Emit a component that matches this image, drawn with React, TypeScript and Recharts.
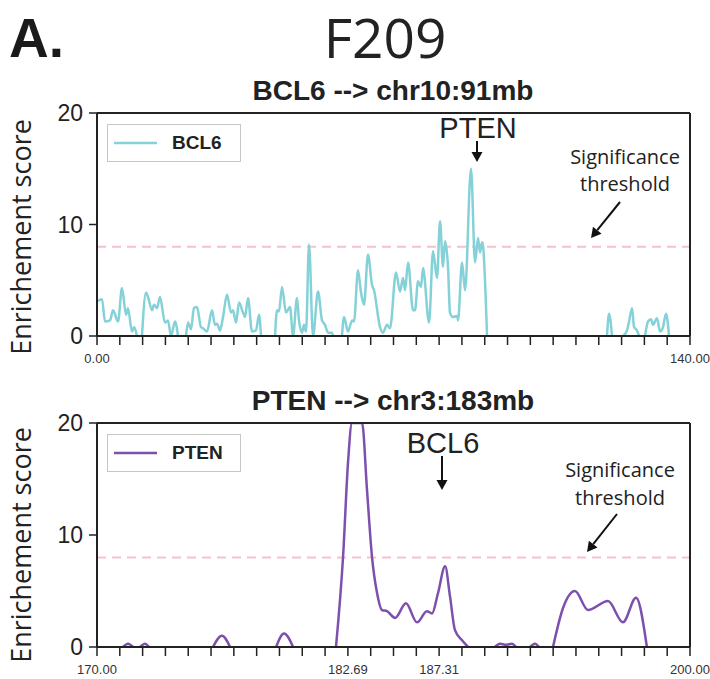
import { LineChart, Line, XAxis, YAxis, ReferenceLine, Legend } from "recharts";

// BCL6 --> chr10 (Mb), null = gap where the curve sits under the axis
const BCL6_POS = [
  0.0, 1.18, 1.89, 3.07, 3.78, 4.96, 5.9, 6.85, 7.32, 8.26, 8.74, 9.44, 10.0, 10.62, 11.57, 12.04, 12.99,
  13.46, 14.17, 14.87, 16.05, 16.76, 17.47, 18.42, 19.12, 20.0, 21.01, 21.49, 22.19, 22.9, 23.61, 24.55,
  25.03, 25.97, 27.15, 27.86, 28.33, 29.04, 29.75, 30.69, 31.64, 32.11, 32.82, 33.53, 34.47, 34.94, 35.65,
  36.6, 37.54, 38.25, 38.72, 40.0, 42.03, 42.5, 42.97, 43.68, 44.62, 45.57, 46.28, 47.22, 47.69, 48.4,
  48.87, 49.35, 50.05, 51.0, 52.18, 53.12, 53.83, 54.54, 55.48, 55.72, 56.5, 57.84, 58.32, 59.26, 60.21,
  60.68, 61.62, 62.33, 63.04, 63.98, 64.93, 65.4, 66.82, 67.52, 68.47, 69.18, 70.59, 71.54, 72.25, 72.72,
  73.43, 74.61, 75.08, 75.79, 76.5, 76.97, 78.39, 79.33, 80.27, 80.98, 81.69, 82.16, 82.87, 83.34, 84.05,
  85.0, 85.23, 86.18, 86.89, 88.3, 89.25, 89.95, 90.43, 90.9, 91.13, 92.08, 100.0, 120.41, 120.88, 121.59,
  123.0, 124.19, 125.13, 125.61, 126.32, 126.79, 127.49, 127.97, 128.7, 129.38, 130.09, 130.8, 131.27,
  132.22, 132.92, 133.63, 134.34, 135.05,
];
const BCL6_SCORE = [
  3.1, 3.3, 1.3, 1.4, 2.3, 1.3, 4.3, 1.9, 2.5, 0.4, 0.8, 0, null, 0, 3.9, 3.5, 2.3,
  2.8, 2.5, 3.5, 1.2, 1.4, 0, 1.3, 0, null, 0, 1.2, 0.6, 2.5, 2.6, 0.8,
  0.7, 0.4, 2.3, 1.0, 1.1, 0.5, 1.7, 3.7, 2.1, 2.3, 1.2, 3.0, 2.1, 1.7, 3.4,
  0.4, 0.5, 1.9, 0, null, 0, 2.3, 2.2, 4.4, 2.1, 2.6, 0, 3.4, 1.4, 0.3,
  1.0, 0.4, 8.2, 0, 4.0, 1.4, 1.0, 0.3, 0.3, 0, null, 0, 1.7, 0.4, 1.4,
  1.3, 5.9, 3.9, 2.8, 7.3, 4.6, 4.1, 0.8, 0.3, 1.0, 0.7, 5.7, 4.0, 5.2, 4.1,
  6.6, 2.3, 2.3, 4.9, 4.4, 6.1, 1.2, 7.6, 5.2, 10.3, 6.2, 8.5, 6.2, 2.1, 1.7,
  1.8, 1.4, 6.6, 4.1, 15.0, 6.6, 8.8, 7.5, 8.4, 8.1, 0, null, 0, 2.0, 0,
  null, 0, 0.5, 1.3, 2.5, 0.8, 0.5, 0, null, 0, 1.3, 1.5, 1.0,
  1.6, 0.4, 0.8, 2.0, 0,
];

// PTEN --> chr3 (Mb); the big peak runs along the top of the plot
const PTEN_POS = [
  171.32, 171.57, 171.82, 172.0, 172.18, 172.43, 172.63, 174.0, 175.87, 176.32, 176.73, 178.0, 179.06,
  179.46, 179.92, 181.0, 182.09, 182.45, 182.7, 182.9, 183.15, 183.41, 183.66, 183.91, 184.17, 184.42,
  184.67, 185.08, 185.63, 186.19, 186.69, 186.95, 187.25, 187.61, 187.86, 188.11, 188.47, 188.77, 189.5,
  190.13, 190.39, 190.69, 190.99, 191.2, 191.5, 191.91, 192.16, 192.36, 192.7, 193.07, 193.58, 194.18,
  194.84, 195.85, 196.61, 197.27, 197.82,
];
const PTEN_SCORE = [
  0, 0.3, 0, null, 0, 0.3, 0, null, 0, 1.0, 0, null, 0,
  1.2, 0, null, 0, 8.1, 16.5, 20, 20, 20, 14, 8.1, 4.8, 3.3,
  3.2, 2.6, 3.9, 2.2, 3.2, 3.0, 4.8, 7.2, 4.5, 1.5, 0.6, 0, null,
  0, 0.3, 0.2, 0.3, 0, null, 0, 0.3, 0, null, 0, 3.5, 5.0,
  3.3, 4.1, 2.2, 4.4, 0,
];

const THRESHOLD = 8;
const Y_TICKS = [0, 10, 20];
const BCL6_X_LABELS = [0, 140];
const PTEN_X_LABELS = [170, 182.69, 187.31, 200];
const TICK_STEPS = 26;

const SANS = "'Liberation Sans', Arial, sans-serif";
const HUMAN = "'Open Sans', 'Noto Sans', sans-serif";
const INK = "#222";

type PanelProps = {
  pos: number[];
  score: (number | null)[];
  name: string;
  color: string;
  domain: [number, number];
  labels: number[];
  top: number;
  height: number;
  xHeight: number;
  bottom: number;
  legendTop: number;
};

const Panel = ({ pos, score, name, color, domain, labels, top, height, xHeight, bottom, legendTop }: PanelProps) => {
  const data = pos.map((x, i) => ({ x, score: score[i] }));
  const [lo, hi] = domain;
  const ticks = Array.from({ length: TICK_STEPS + 1 }, (_, i) => lo + (i * (hi - lo)) / TICK_STEPS);
  const fmt = (v: number) => (labels.some((l) => Math.abs(l - v) < 0.01) ? v.toFixed(2) : "");
  const frame = { stroke: INK, strokeWidth: 2 };

  return (
    <LineChart width={710} height={height} data={data} margin={{ top, right: 20, bottom, left: 0 }}>
      <XAxis
        type="number"
        dataKey="x"
        domain={domain}
        ticks={ticks}
        interval={0}
        allowDataOverflow
        tickFormatter={fmt}
        height={xHeight}
        tickSize={9}
        tickMargin={9}
        axisLine={frame}
        tickLine={{ stroke: INK, strokeWidth: 1.5 }}
        tick={{ fontSize: 13, fill: "#333", fontFamily: SANS }}
      />
      <YAxis
        type="number"
        domain={[0, 20]}
        ticks={Y_TICKS}
        allowDataOverflow
        width={97}
        tickSize={8}
        tickMargin={6}
        axisLine={frame}
        tickLine={{ stroke: INK, strokeWidth: 1.5 }}
        tick={{ fontSize: 23, fill: INK, fontFamily: SANS }}
      />
      <ReferenceLine y={THRESHOLD} stroke="#f7c1cb" strokeWidth={2} strokeDasharray="9 6" />
      <Line
        type="monotone"
        dataKey="score"
        name={name}
        stroke={color}
        strokeWidth={2.5}
        dot={false}
        connectNulls={false}
        isAnimationActive={false}
      />
      {/* box frame: top and right edges */}
      <ReferenceLine y={20} stroke={INK} strokeWidth={2} />
      <ReferenceLine x={hi} stroke={INK} strokeWidth={2} />
      <Legend
        layout="horizontal"
        align="center"
        verticalAlign="middle"
        wrapperStyle={{ left: 107, top: legendTop, width: 134, height: 38 }}
        content={() => (
          <div
            style={{
              width: 134,
              height: 38,
              boxSizing: "border-box",
              border: "1.5px solid #c6c6c6",
              background: "#fff",
              display: "flex",
              alignItems: "center",
            }}
          >
            <svg width={63} height={36}>
              <line x1={6} x2={49} y1={18} y2={18} stroke={color} strokeWidth={2.5} />
            </svg>
            <span style={{ font: `bold 19px ${SANS}`, color: INK, marginLeft: 1 }}>{name}</span>
          </div>
        )}
      />
    </LineChart>
  );
};

const Arrow = ({ x1, y1, x2, y2 }: { x1: number; y1: number; x2: number; y2: number }) => {
  const len = Math.hypot(x2 - x1, y2 - y1);
  const ux = (x2 - x1) / len;
  const uy = (y2 - y1) / len;
  const bx = x2 - ux * 10;
  const by = y2 - uy * 10;
  const px = -uy * 5.5;
  const py = ux * 5.5;
  return (
    <g>
      <line x1={x1} y1={y1} x2={bx} y2={by} stroke="#111" strokeWidth={2} />
      <polygon points={`${x2},${y2} ${bx + px},${by + py} ${bx - px},${by - py}`} fill="#111" />
    </g>
  );
};

const Notes = () => (
  <svg width={710} height={679} style={{ position: "absolute", left: 0, top: 0, pointerEvents: "none" }}>
    <text x={9} y={57} fontFamily={SANS} fontWeight="bold" fontSize={55} fill="#1a1a1a">A.</text>
    <text x={385} y={58} textAnchor="middle" fontFamily={HUMAN} fontSize={55} fill={INK}>F209</text>

    <text x={393} y={100} textAnchor="middle" fontFamily={SANS} fontWeight="bold" fontSize={28} fill={INK}>
      BCL6 --&gt; chr10:91mb
    </text>
    <text x={393} y={410} textAnchor="middle" fontFamily={SANS} fontWeight="bold" fontSize={28} fill={INK}>
      PTEN --&gt; chr3:183mb
    </text>

    <text transform="translate(31,237) rotate(-90)" textAnchor="middle" fontFamily={HUMAN} fontSize={27} fill={INK}>
      Enrichement score
    </text>
    <text transform="translate(31,545) rotate(-90)" textAnchor="middle" fontFamily={HUMAN} fontSize={27} fill={INK}>
      Enrichement score
    </text>

    <text x={478} y={138} textAnchor="middle" fontFamily={SANS} fontSize={29} fill={INK}>PTEN</text>
    <Arrow x1={477} y1={141} x2={477} y2={162} />
    <text x={625} y={164} textAnchor="middle" fontFamily={HUMAN} fontSize={20} fill={INK}>Significance</text>
    <text x={625} y={191} textAnchor="middle" fontFamily={HUMAN} fontSize={20} fill={INK}>threshold</text>
    <Arrow x1={620} y1={202} x2={591} y2={238} />

    <text x={443} y={453} textAnchor="middle" fontFamily={SANS} fontSize={29} fill={INK}>BCL6</text>
    <Arrow x1={442} y1={456} x2={442} y2={490} />
    <text x={620} y={477} textAnchor="middle" fontFamily={HUMAN} fontSize={20} fill={INK}>Significance</text>
    <text x={620} y={505} textAnchor="middle" fontFamily={HUMAN} fontSize={20} fill={INK}>threshold</text>
    <Arrow x1={617} y1={514} x2={587} y2={552} />
  </svg>
);

export default function App() {
  return (
    <div style={{ position: "absolute", left: 0, top: 0, width: 710, height: 679, background: "#fff" }}>
      <div style={{ position: "absolute", left: 0, top: 0 }}>
        <Panel
          pos={BCL6_POS}
          score={BCL6_SCORE}
          name="BCL6"
          color="#84d2d8"
          domain={[0, 140]}
          labels={BCL6_X_LABELS}
          top={113}
          height={380}
          xHeight={40}
          bottom={4}
          legendTop={124}
        />
      </div>
      <div style={{ position: "absolute", left: 0, top: 380 }}>
        <Panel
          pos={PTEN_POS}
          score={PTEN_SCORE}
          name="PTEN"
          color="#7d50ae"
          domain={[170, 200]}
          labels={PTEN_X_LABELS}
          top={43}
          height={299}
          xHeight={30}
          bottom={2}
          legendTop={434 - 380}
        />
      </div>
      <Notes />
    </div>
  );
}
